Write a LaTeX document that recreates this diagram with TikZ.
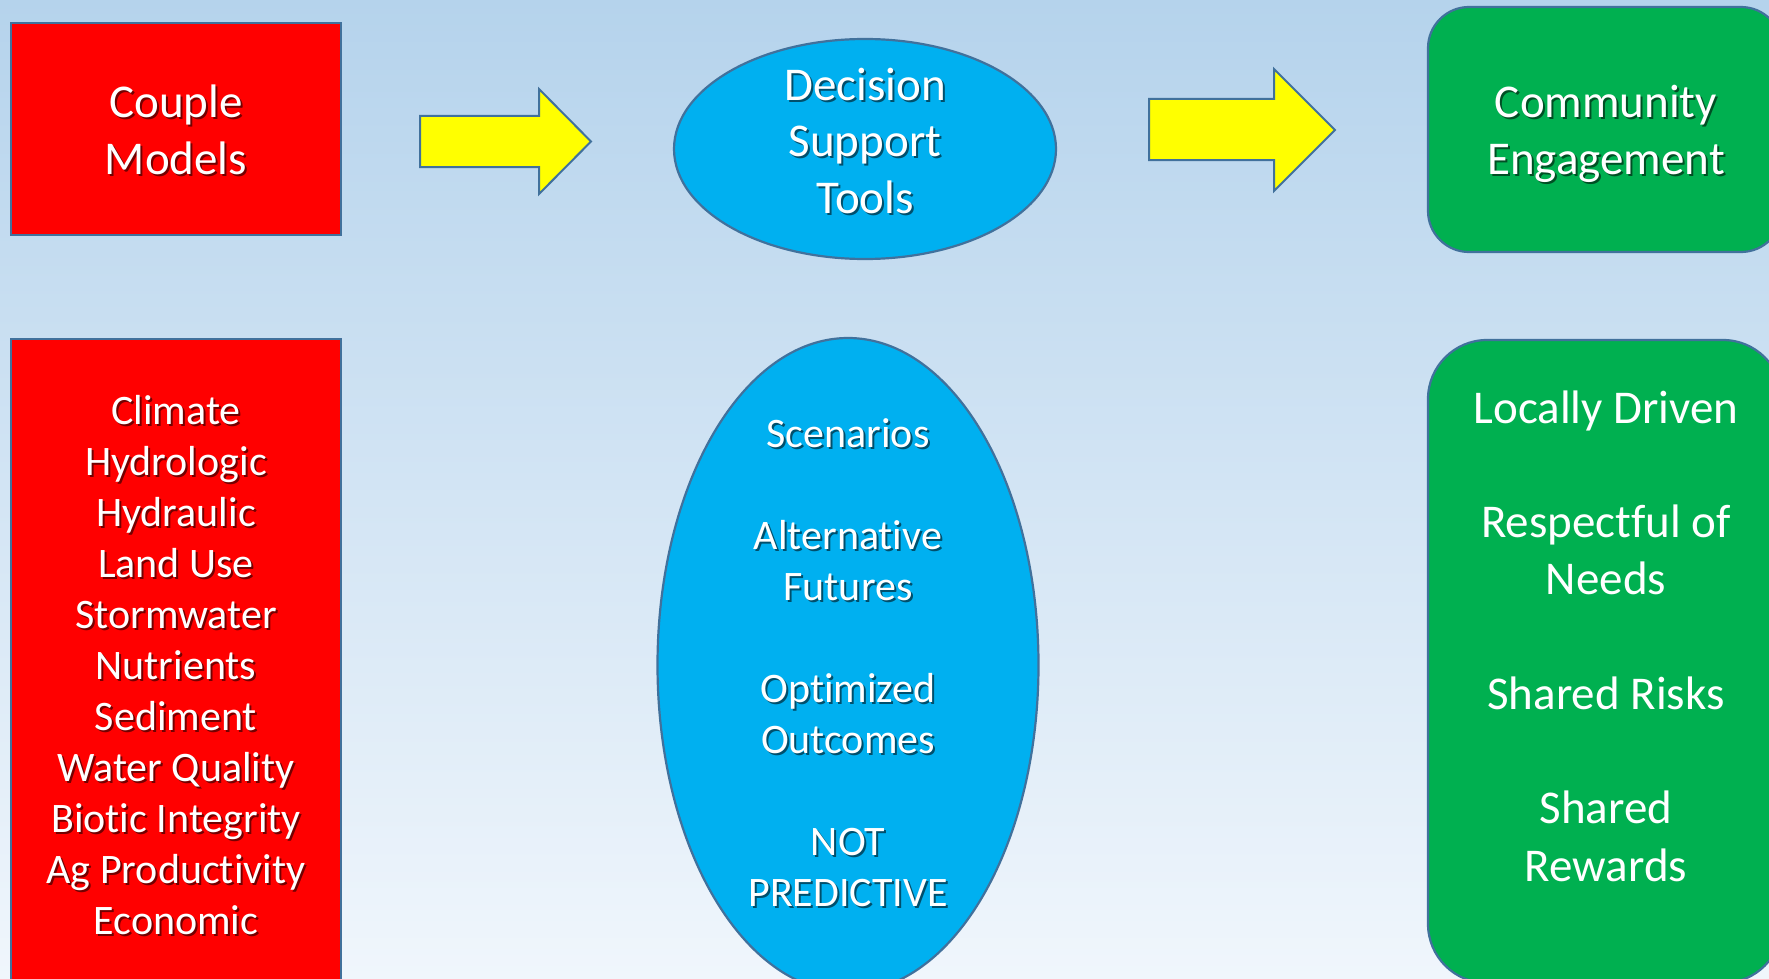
\documentclass[tikz,border=0pt]{standalone}
\usepackage{fontspec}
\setmainfont{Carlito}[Ligatures=NoCommon]
\usetikzlibrary{shapes.geometric}
\definecolor{bgtop}{RGB}{181,211,236}
\definecolor{bgbot}{RGB}{240,246,252}
\definecolor{edgeblue}{RGB}{65,113,156}
\definecolor{pptred}{RGB}{255,0,0}
\definecolor{pptblue}{RGB}{0,176,240}
\definecolor{pptgreen}{RGB}{0,176,80}
\definecolor{pptyellow}{RGB}{255,255,0}
\colorlet{shc}{black}
\newcommand\shl[1]{\leavevmode\rlap{\kern2pt\raisebox{-2pt}{\textcolor{shc}{#1}}}#1}
\begin{document}
\begin{tikzpicture}[x=1pt,y=-1pt,
  shapebox/.style={draw=edgeblue, line width=2.2pt, inner sep=0pt, outer sep=0pt},
  redbox/.style={shapebox, rectangle, fill=pptred},
  bluebox/.style={shapebox, ellipse, fill=pptblue},
  greenbox/.style={shapebox, rectangle, fill=pptgreen},
  bigarrow/.style={draw=edgeblue, line width=2pt, fill=pptyellow, line join=miter},
  lbl/.style={text=white, align=center, inner sep=0pt},
  big/.style={font=\fontsize{47}{56.5}\selectfont},
  small/.style={font=\fontsize{42}{51}\selectfont},
  onred/.style={execute at begin node={\colorlet{shc}{pptred!45!black}}},
  onblue/.style={execute at begin node={\colorlet{shc}{pptblue!45!black}}},
  ongreen/.style={execute at begin node={\colorlet{shc}{pptgreen!45!black}}}
]
\useasboundingbox (0,0) rectangle (1769,979);
\clip (0,0) rectangle (1769,979);
\shade[top color=bgtop, bottom color=bgbot] (0,0) rectangle (1769,979);

% shapes
\node[redbox, minimum width=330pt, minimum height=212pt] (cm) at (176,129) {};
\node[redbox, minimum width=330pt, minimum height=656pt] (models) at (176,667) {};
\node[bluebox, minimum width=382pt, minimum height=220pt] (dst) at (865,149) {};
\node[bluebox, minimum width=381pt, minimum height=654pt] (tools) at (848,665) {};
\node[greenbox, rounded corners=41pt, minimum width=354pt, minimum height=245pt] (ce) at (1605,129.5) {};
\node[greenbox, rounded corners=59pt, minimum width=354pt, minimum height=643pt] (traits) at (1605,661.5) {};

% block arrows
\draw[bigarrow] (420,116) -- (539,116) -- (539,89) -- (591,141.5) -- (539,194) -- (539,167) -- (420,167) -- cycle;
\draw[bigarrow] (1149,99) -- (1274,99) -- (1274,69) -- (1335,130) -- (1274,191) -- (1274,160) -- (1149,160) -- cycle;

% texts
\node[lbl, big, onred] (cm-t) at (176,131) {\shl{Couple}\\\shl{Models}};
\node[lbl, small, onred] (models-t) at (176,666) {\shl{Climate}\\\shl{Hydrologic}\\\shl{Hydraulic}\\\shl{Land Use}\\\shl{Stormwater}\\\shl{Nutrients}\\\shl{Sediment}\\\shl{Water Quality}\\\shl{Biotic Integrity}\\\shl{Ag Productivity}\\\shl{Economic}};
\node[lbl, big, onblue] (dst-t) at (865,142) {\shl{Decision}\\\shl{Support}\\\shl{Tools}};
\node[lbl, small, onblue] (tools-t) at (848,664) {\shl{Scenarios}\\[51pt]\shl{Alternative}\\\shl{Futures}\\[51pt]\shl{Optimized}\\\shl{Outcomes}\\[51pt]\shl{NOT}\\\shl{PREDICTIVE}};
\node[lbl, big, ongreen] (ce-t) at (1606,135) {\shl{Community}\\\shl{Engagement}};
\node[lbl, font=\fontsize{47}{57.25}\selectfont] (traits-t) at (1606,636) {Locally Driven\\[57.25pt]Respectful of\\Needs\\[57.25pt]Shared Risks\\[57.25pt]Shared\\Rewards};
\end{tikzpicture}
\end{document}
